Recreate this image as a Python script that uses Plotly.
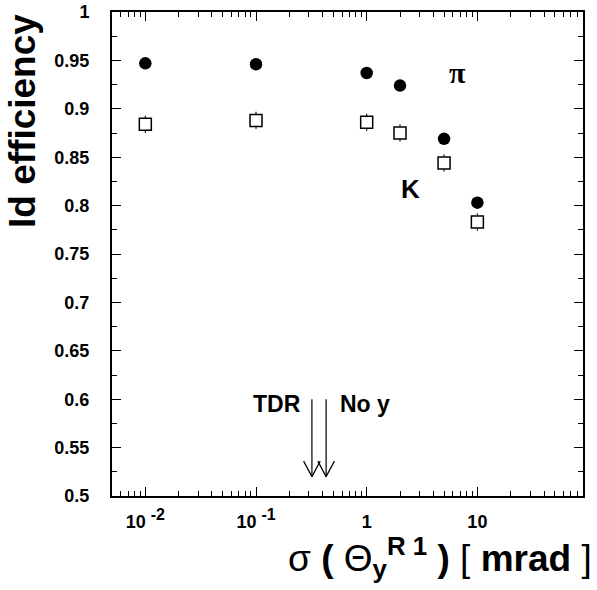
import math
import plotly.graph_objects as go

# ---- data ----
sigma = [0.01, 0.1, 1, 2, 5, 10]                      # mrad
eff_pi = [0.947, 0.946, 0.937, 0.924, 0.869, 0.803]
eff_k = [0.884, 0.888, 0.886, 0.875, 0.844, 0.783]
err_k = [0.009, 0.009, 0.009, 0.009, 0.009, 0.009]

arrow_x = [0.32, 0.43]          # TDR, No y
arrow_top = [0.600, 0.600]
arrow_tip = [0.520, 0.520]
arrow_labels = ["TDR", "No y"]

x_tickvals = [0.01, 0.1, 1, 10]
x_ticktext = ["10 <sup><span style='font-size:16px'>-2</span></sup>",
              "10 <sup><span style='font-size:16px'>-1</span></sup>", "1", "10"]
y_tickvals = [0.5, 0.55, 0.6, 0.65, 0.7, 0.75, 0.8, 0.85, 0.9, 0.95, 1.0]
y_ticktext = ["0.5", "0.55", "0.6", "0.65", "0.7", "0.75", "0.8", "0.85", "0.9", "0.95", "1"]

FONT = "Liberation Sans, Arial, Helvetica, sans-serif"

fig = go.Figure()

fig.add_trace(go.Scatter(
    x=sigma, y=eff_k, mode="markers",
    marker=dict(symbol="square", size=12, color="white", line=dict(width=1.5, color="black")),
    error_y=dict(type="data", array=err_k, visible=True, thickness=1, width=0, color="black"),
    showlegend=False))

fig.add_trace(go.Scatter(
    x=sigma, y=eff_pi, mode="markers",
    marker=dict(symbol="circle", size=12.5, color="black"),
    showlegend=False))

# arrows (shaft + open V head) built from arrow data
head_fx = 10 ** 0.075
head_dy = 0.016
ax, ay = [], []
for xv, yt, yp in zip(arrow_x, arrow_top, arrow_tip):
    ax += [xv, xv, None, xv / head_fx, xv, xv * head_fx, None]
    ay += [yt, yp, None, yp + head_dy, yp, yp + head_dy, None]
fig.add_trace(go.Scatter(x=ax, y=ay, mode="lines", line=dict(color="black", width=1.2),
                         showlegend=False, hoverinfo="skip"))

fig.update_layout(
    width=597, height=590,
    margin=dict(l=112, r=14, t=12, b=94, autoexpand=False),
    paper_bgcolor="white", plot_bgcolor="white",
    font=dict(family=FONT, color="black"),
    xaxis=dict(
        type="log", range=[math.log10(0.005), math.log10(90)],
        tickmode="array", tickvals=x_tickvals, ticktext=x_ticktext,
        ticks="inside", ticklen=9, tickwidth=1, tickcolor="black",
        minor=dict(tickmode="array",
                   tickvals=[m * d for d in [0.001, 0.01, 0.1, 1, 10] for m in range(2, 10)],
                   ticks="inside", ticklen=5, tickwidth=1, tickcolor="black", showgrid=False),
        showline=True, linecolor="black", linewidth=2, mirror="ticks",
        showgrid=False, zeroline=False, automargin=False,
        tickfont=dict(family=FONT, size=18, weight="bold"),
        ticklabelstandoff=8,
    ),
    yaxis=dict(
        range=[0.5, 1.0],
        tickmode="array", tickvals=y_tickvals, ticktext=y_ticktext,
        ticks="inside", ticklen=9, tickwidth=1, tickcolor="black",
        minor=dict(dtick=0.025, tick0=0.5, ticks="inside", ticklen=5, tickwidth=1,
                   tickcolor="black", showgrid=False),
        showline=True, linecolor="black", linewidth=2, mirror="ticks",
        showgrid=False, zeroline=False, automargin=False,
        tickfont=dict(family=FONT, size=18, weight="bold"),
        ticklabelstandoff=17,
    ),
)

annots = [
    dict(text="<b>Id efficiency</b>", xref="paper", yref="paper", x=-0.19, y=0.999,
         xanchor="center", yanchor="top", textangle=-90, showarrow=False,
         font=dict(family=FONT, size=37)),
    dict(text="σ <b>(</b> Θ<b><sub>y</sub><sup>R 1</sup> )</b> [ <b>mrad</b> ]", xref="paper", yref="paper",
         x=1.023, y=-0.07, xanchor="right", yanchor="top", showarrow=False,
         font=dict(family=FONT, size=37)),
    dict(text="π", xref="x", yref="y", x=math.log10(6.6), y=0.937, showarrow=False,
         font=dict(family="Liberation Serif, Times New Roman, serif", size=30, weight="bold")),
    dict(text="<b>K</b>", xref="x", yref="y", x=math.log10(2.5), y=0.817, showarrow=False,
         font=dict(family=FONT, size=26)),
    dict(text="<b>" + arrow_labels[0] + "</b>", xref="x", yref="y", x=math.log10(0.155), y=0.595,
         showarrow=False, font=dict(family=FONT, size=23)),
    dict(text="<b>" + arrow_labels[1] + "</b>", xref="x", yref="y", x=math.log10(0.97), y=0.595,
         showarrow=False, font=dict(family=FONT, size=23)),
]
fig.update_layout(annotations=annots)

fig.write_html("out.html")
